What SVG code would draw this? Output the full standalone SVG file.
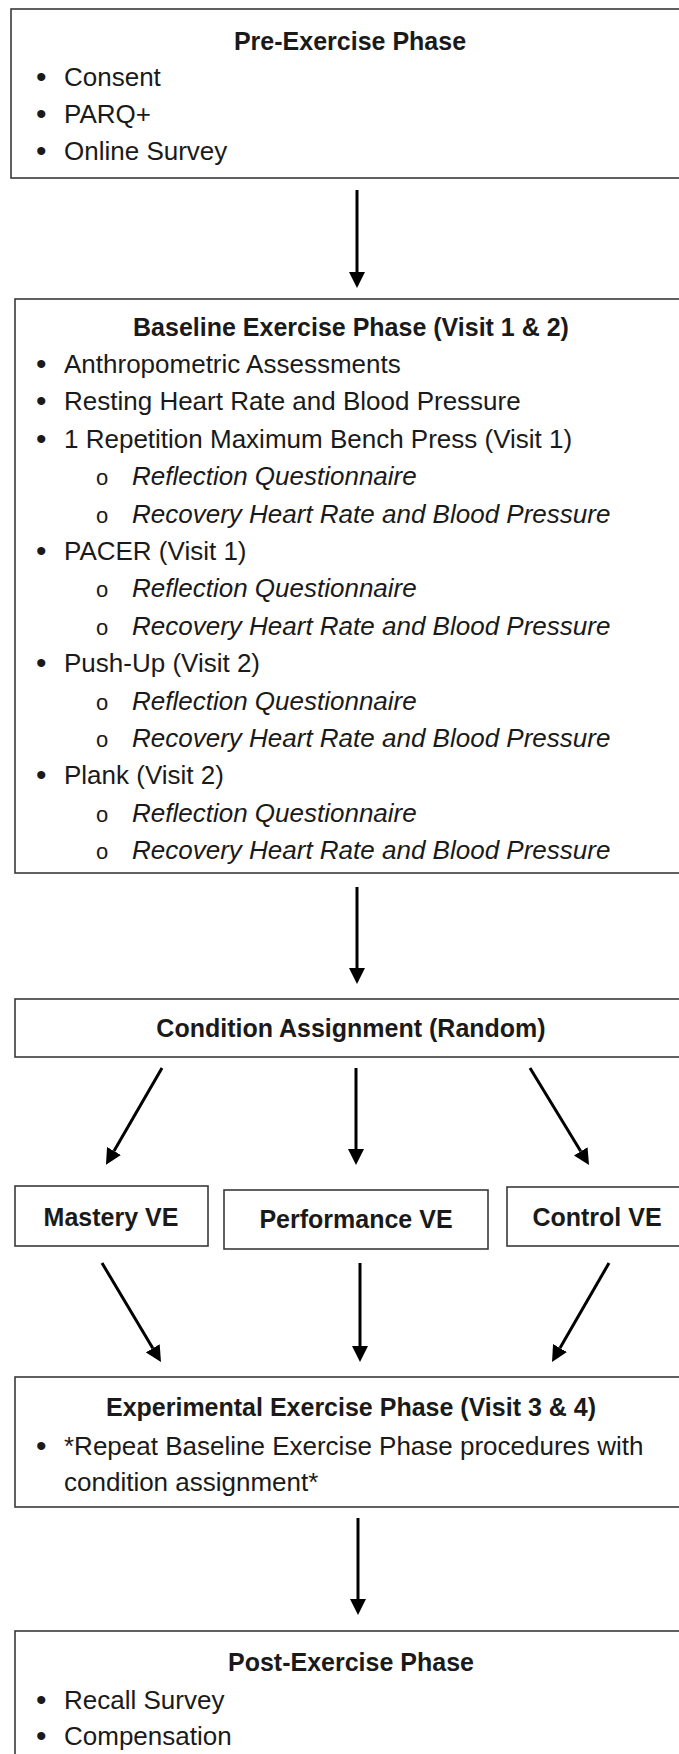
<svg xmlns="http://www.w3.org/2000/svg" width="679" height="1754" viewBox="0 0 679 1754">
<style>
.box{fill:#ffffff;stroke:#3a3a3a;stroke-width:1.6}
.t{font-family:"Liberation Sans",Arial,sans-serif;font-size:26px;fill:#1a1a1a}
.h{font-family:"Liberation Sans",Arial,sans-serif;font-size:25px;font-weight:bold;fill:#1a1a1a;text-anchor:middle}
.i{font-style:italic}
.b{font-family:"Liberation Sans",Arial,sans-serif;font-size:30px;fill:#1a1a1a}
.o{font-family:"Liberation Sans",Arial,sans-serif;font-size:22px;fill:#1a1a1a}
.c{fill:none;stroke:#000000;stroke-width:3}
</style>
<defs>
<marker id="ah" markerUnits="userSpaceOnUse" markerWidth="16" markerHeight="16" viewBox="0 0 16 16" refX="0" refY="8" orient="auto">
<path d="M0,0 L16,8 L0,16 z" fill="#000000"/>
</marker>
</defs>
<rect width="679" height="1754" fill="#ffffff"/>

<g id="pre-exercise">
<rect class="box" x="11" y="9" width="690" height="169"/>
<text class="h" x="350" y="50">Pre-Exercise Phase</text>
<text class="b" x="36" y="87">•</text><text class="t" x="64" y="86">Consent</text>
<text class="b" x="36" y="124">•</text><text class="t" x="64" y="123">PARQ+</text>
<text class="b" x="36" y="161">•</text><text class="t" x="64" y="160">Online Survey</text>
</g>

<g id="baseline">
<rect class="box" x="15" y="299" width="690" height="574"/>
<text class="h" x="351" y="336">Baseline Exercise Phase (Visit 1 &amp; 2)</text>
<text class="b" x="36" y="374">•</text><text class="t" x="64" y="373">Anthropometric Assessments</text>
<text class="b" x="36" y="411">•</text><text class="t" x="64" y="410">Resting Heart Rate and Blood Pressure</text>
<text class="b" x="36" y="449">•</text><text class="t" x="64" y="448">1 Repetition Maximum Bench Press (Visit 1)</text>
<text class="o" x="96" y="485">o</text><text class="t i" x="132" y="485">Reflection Questionnaire</text>
<text class="o" x="96" y="523">o</text><text class="t i" x="132" y="523">Recovery Heart Rate and Blood Pressure</text>
<text class="b" x="36" y="561">•</text><text class="t" x="64" y="560">PACER (Visit 1)</text>
<text class="o" x="96" y="597">o</text><text class="t i" x="132" y="597">Reflection Questionnaire</text>
<text class="o" x="96" y="635">o</text><text class="t i" x="132" y="635">Recovery Heart Rate and Blood Pressure</text>
<text class="b" x="36" y="673">•</text><text class="t" x="64" y="672">Push-Up (Visit 2)</text>
<text class="o" x="96" y="710">o</text><text class="t i" x="132" y="710">Reflection Questionnaire</text>
<text class="o" x="96" y="747">o</text><text class="t i" x="132" y="747">Recovery Heart Rate and Blood Pressure</text>
<text class="b" x="36" y="785">•</text><text class="t" x="64" y="784">Plank (Visit 2)</text>
<text class="o" x="96" y="822">o</text><text class="t i" x="132" y="822">Reflection Questionnaire</text>
<text class="o" x="96" y="859">o</text><text class="t i" x="132" y="859">Recovery Heart Rate and Blood Pressure</text>
</g>

<g id="condition">
<rect class="box" x="15" y="999" width="690" height="58"/>
<text class="h" x="351" y="1037">Condition Assignment (Random)</text>
</g>

<g id="mastery">
<rect class="box" x="15" y="1186" width="193" height="60"/>
<text class="h" x="111" y="1226">Mastery VE</text>
</g>

<g id="performance">
<rect class="box" x="224" y="1190" width="264" height="59"/>
<text class="h" x="356" y="1228">Performance VE</text>
</g>

<g id="control">
<rect class="box" x="507" y="1187" width="200" height="59"/>
<text class="h" x="597" y="1226">Control VE</text>
</g>

<g id="experimental">
<rect class="box" x="15" y="1377" width="690" height="130"/>
<text class="h" x="351" y="1416">Experimental Exercise Phase (Visit 3 &amp; 4)</text>
<text class="b" x="36" y="1456">•</text><text class="t" x="64" y="1455">*Repeat Baseline Exercise Phase procedures with</text>
<text class="t" x="64" y="1491">condition assignment*</text>
</g>

<g id="post-exercise">
<rect class="box" x="15" y="1631" width="690" height="200"/>
<text class="h" x="351" y="1671">Post-Exercise Phase</text>
<text class="b" x="36" y="1710">•</text><text class="t" x="64" y="1709">Recall Survey</text>
<text class="b" x="36" y="1746">•</text><text class="t" x="64" y="1745">Compensation</text>
</g>

<g id="connectors">
<line class="c" x1="357" y1="190" x2="357" y2="272" marker-end="url(#ah)"/>
<line class="c" x1="357" y1="887" x2="357" y2="968" marker-end="url(#ah)"/>
<line class="c" x1="162" y1="1068" x2="114" y2="1151" marker-end="url(#ah)"/>
<line class="c" x1="356" y1="1068" x2="356" y2="1149" marker-end="url(#ah)"/>
<line class="c" x1="530" y1="1068" x2="580.7" y2="1151.3" marker-end="url(#ah)"/>
<line class="c" x1="102" y1="1263" x2="152.8" y2="1348.3" marker-end="url(#ah)"/>
<line class="c" x1="360" y1="1263" x2="360" y2="1346" marker-end="url(#ah)"/>
<line class="c" x1="609" y1="1263" x2="560" y2="1348.1" marker-end="url(#ah)"/>
<line class="c" x1="358" y1="1518" x2="358" y2="1599" marker-end="url(#ah)"/>
</g>
</svg>
